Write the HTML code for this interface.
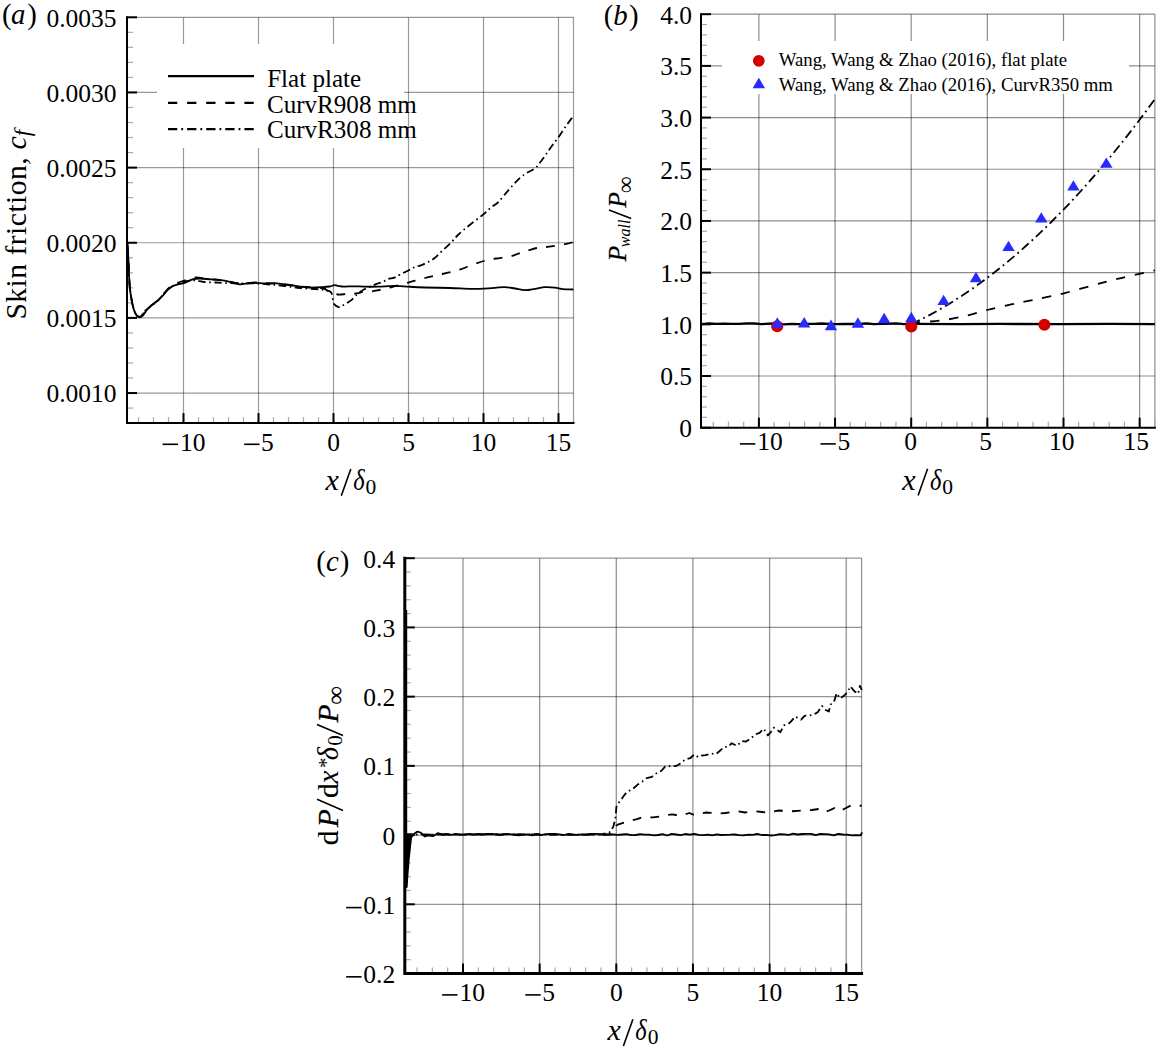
<!DOCTYPE html>
<html><head><meta charset="utf-8"><style>
html,body{margin:0;padding:0;background:#fff;}
svg{display:block;font-family:'Liberation Serif', serif;}
text{fill:#000;}
</style></head><body>
<svg width="1157" height="1053" viewBox="0 0 1157 1053">
<rect width="1157" height="1053" fill="#fff"/>
<line x1="183.50" y1="17.30" x2="183.50" y2="423.11" stroke="#000" stroke-width="1.2" stroke-opacity="0.4"/>
<line x1="258.50" y1="17.30" x2="258.50" y2="423.11" stroke="#000" stroke-width="1.2" stroke-opacity="0.4"/>
<line x1="333.50" y1="17.30" x2="333.50" y2="423.11" stroke="#000" stroke-width="1.2" stroke-opacity="0.4"/>
<line x1="408.50" y1="17.30" x2="408.50" y2="423.11" stroke="#000" stroke-width="1.2" stroke-opacity="0.4"/>
<line x1="483.50" y1="17.30" x2="483.50" y2="423.11" stroke="#000" stroke-width="1.2" stroke-opacity="0.4"/>
<line x1="558.50" y1="17.30" x2="558.50" y2="423.11" stroke="#000" stroke-width="1.2" stroke-opacity="0.4"/>
<line x1="127.00" y1="393.05" x2="573.50" y2="393.05" stroke="#000" stroke-width="1.2" stroke-opacity="0.4"/>
<line x1="127.00" y1="317.90" x2="573.50" y2="317.90" stroke="#000" stroke-width="1.2" stroke-opacity="0.4"/>
<line x1="127.00" y1="242.75" x2="573.50" y2="242.75" stroke="#000" stroke-width="1.2" stroke-opacity="0.4"/>
<line x1="127.00" y1="167.60" x2="573.50" y2="167.60" stroke="#000" stroke-width="1.2" stroke-opacity="0.4"/>
<line x1="127.00" y1="92.45" x2="573.50" y2="92.45" stroke="#000" stroke-width="1.2" stroke-opacity="0.4"/>
<line x1="127.00" y1="17.30" x2="573.50" y2="17.30" stroke="#000" stroke-width="1.2" stroke-opacity="0.4"/>
<line x1="573.50" y1="17.30" x2="573.50" y2="423.11" stroke="#000" stroke-width="1.2" stroke-opacity="0.4"/>
<rect x="157" y="44" width="247" height="104" fill="#fff"/>
<line x1="138.50" y1="423.11" x2="138.50" y2="417.11" stroke="#a8a8a8" stroke-width="1.2" />
<line x1="153.50" y1="423.11" x2="153.50" y2="417.11" stroke="#a8a8a8" stroke-width="1.2" />
<line x1="168.50" y1="423.11" x2="168.50" y2="417.11" stroke="#a8a8a8" stroke-width="1.2" />
<line x1="198.50" y1="423.11" x2="198.50" y2="417.11" stroke="#a8a8a8" stroke-width="1.2" />
<line x1="213.50" y1="423.11" x2="213.50" y2="417.11" stroke="#a8a8a8" stroke-width="1.2" />
<line x1="228.50" y1="423.11" x2="228.50" y2="417.11" stroke="#a8a8a8" stroke-width="1.2" />
<line x1="243.50" y1="423.11" x2="243.50" y2="417.11" stroke="#a8a8a8" stroke-width="1.2" />
<line x1="273.50" y1="423.11" x2="273.50" y2="417.11" stroke="#a8a8a8" stroke-width="1.2" />
<line x1="288.50" y1="423.11" x2="288.50" y2="417.11" stroke="#a8a8a8" stroke-width="1.2" />
<line x1="303.50" y1="423.11" x2="303.50" y2="417.11" stroke="#a8a8a8" stroke-width="1.2" />
<line x1="318.50" y1="423.11" x2="318.50" y2="417.11" stroke="#a8a8a8" stroke-width="1.2" />
<line x1="348.50" y1="423.11" x2="348.50" y2="417.11" stroke="#a8a8a8" stroke-width="1.2" />
<line x1="363.50" y1="423.11" x2="363.50" y2="417.11" stroke="#a8a8a8" stroke-width="1.2" />
<line x1="378.50" y1="423.11" x2="378.50" y2="417.11" stroke="#a8a8a8" stroke-width="1.2" />
<line x1="393.50" y1="423.11" x2="393.50" y2="417.11" stroke="#a8a8a8" stroke-width="1.2" />
<line x1="423.50" y1="423.11" x2="423.50" y2="417.11" stroke="#a8a8a8" stroke-width="1.2" />
<line x1="438.50" y1="423.11" x2="438.50" y2="417.11" stroke="#a8a8a8" stroke-width="1.2" />
<line x1="453.50" y1="423.11" x2="453.50" y2="417.11" stroke="#a8a8a8" stroke-width="1.2" />
<line x1="468.50" y1="423.11" x2="468.50" y2="417.11" stroke="#a8a8a8" stroke-width="1.2" />
<line x1="498.50" y1="423.11" x2="498.50" y2="417.11" stroke="#a8a8a8" stroke-width="1.2" />
<line x1="513.50" y1="423.11" x2="513.50" y2="417.11" stroke="#a8a8a8" stroke-width="1.2" />
<line x1="528.50" y1="423.11" x2="528.50" y2="417.11" stroke="#a8a8a8" stroke-width="1.2" />
<line x1="543.50" y1="423.11" x2="543.50" y2="417.11" stroke="#a8a8a8" stroke-width="1.2" />
<line x1="573.50" y1="423.11" x2="573.50" y2="417.11" stroke="#a8a8a8" stroke-width="1.2" />
<line x1="127.00" y1="423.11" x2="133.00" y2="423.11" stroke="#a8a8a8" stroke-width="1.2" />
<line x1="127.00" y1="408.08" x2="133.00" y2="408.08" stroke="#a8a8a8" stroke-width="1.2" />
<line x1="127.00" y1="378.02" x2="133.00" y2="378.02" stroke="#a8a8a8" stroke-width="1.2" />
<line x1="127.00" y1="362.99" x2="133.00" y2="362.99" stroke="#a8a8a8" stroke-width="1.2" />
<line x1="127.00" y1="347.96" x2="133.00" y2="347.96" stroke="#a8a8a8" stroke-width="1.2" />
<line x1="127.00" y1="332.93" x2="133.00" y2="332.93" stroke="#a8a8a8" stroke-width="1.2" />
<line x1="127.00" y1="302.87" x2="133.00" y2="302.87" stroke="#a8a8a8" stroke-width="1.2" />
<line x1="127.00" y1="287.84" x2="133.00" y2="287.84" stroke="#a8a8a8" stroke-width="1.2" />
<line x1="127.00" y1="272.81" x2="133.00" y2="272.81" stroke="#a8a8a8" stroke-width="1.2" />
<line x1="127.00" y1="257.78" x2="133.00" y2="257.78" stroke="#a8a8a8" stroke-width="1.2" />
<line x1="127.00" y1="227.72" x2="133.00" y2="227.72" stroke="#a8a8a8" stroke-width="1.2" />
<line x1="127.00" y1="212.69" x2="133.00" y2="212.69" stroke="#a8a8a8" stroke-width="1.2" />
<line x1="127.00" y1="197.66" x2="133.00" y2="197.66" stroke="#a8a8a8" stroke-width="1.2" />
<line x1="127.00" y1="182.63" x2="133.00" y2="182.63" stroke="#a8a8a8" stroke-width="1.2" />
<line x1="127.00" y1="152.57" x2="133.00" y2="152.57" stroke="#a8a8a8" stroke-width="1.2" />
<line x1="127.00" y1="137.54" x2="133.00" y2="137.54" stroke="#a8a8a8" stroke-width="1.2" />
<line x1="127.00" y1="122.51" x2="133.00" y2="122.51" stroke="#a8a8a8" stroke-width="1.2" />
<line x1="127.00" y1="107.48" x2="133.00" y2="107.48" stroke="#a8a8a8" stroke-width="1.2" />
<line x1="127.00" y1="77.42" x2="133.00" y2="77.42" stroke="#a8a8a8" stroke-width="1.2" />
<line x1="127.00" y1="62.39" x2="133.00" y2="62.39" stroke="#a8a8a8" stroke-width="1.2" />
<line x1="127.00" y1="47.36" x2="133.00" y2="47.36" stroke="#a8a8a8" stroke-width="1.2" />
<line x1="127.00" y1="32.33" x2="133.00" y2="32.33" stroke="#a8a8a8" stroke-width="1.2" />
<line x1="183.50" y1="423.11" x2="183.50" y2="413.11" stroke="#000" stroke-width="2" />
<line x1="258.50" y1="423.11" x2="258.50" y2="413.11" stroke="#000" stroke-width="2" />
<line x1="333.50" y1="423.11" x2="333.50" y2="413.11" stroke="#000" stroke-width="2" />
<line x1="408.50" y1="423.11" x2="408.50" y2="413.11" stroke="#000" stroke-width="2" />
<line x1="483.50" y1="423.11" x2="483.50" y2="413.11" stroke="#000" stroke-width="2" />
<line x1="558.50" y1="423.11" x2="558.50" y2="413.11" stroke="#000" stroke-width="2" />
<line x1="127.00" y1="393.05" x2="137.00" y2="393.05" stroke="#000" stroke-width="2" />
<line x1="127.00" y1="317.90" x2="137.00" y2="317.90" stroke="#000" stroke-width="2" />
<line x1="127.00" y1="242.75" x2="137.00" y2="242.75" stroke="#000" stroke-width="2" />
<line x1="127.00" y1="167.60" x2="137.00" y2="167.60" stroke="#000" stroke-width="2" />
<line x1="127.00" y1="92.45" x2="137.00" y2="92.45" stroke="#000" stroke-width="2" />
<line x1="127.00" y1="17.30" x2="137.00" y2="17.30" stroke="#000" stroke-width="2" />
<path d="M127.00 17.30 V423.11 H573.50" fill="none" stroke="#000" stroke-width="2.0" stroke-linecap="square"/>
<path d="M127.5 243.0 C127.6 245.0 128.0 250.5 128.2 255.0 C128.4 259.5 128.6 265.0 128.8 270.0 C129.0 275.0 129.3 280.9 129.6 285.0 C129.9 289.1 130.3 291.5 130.7 294.5 C131.1 297.5 131.7 300.5 132.2 303.0 C132.7 305.5 133.2 307.6 133.8 309.5 C134.4 311.4 135.1 313.2 136.0 314.5 C136.9 315.8 138.2 317.1 139.3 317.3 C140.4 317.5 141.4 316.9 142.8 315.5 C144.2 314.1 146.1 310.8 147.6 309.0 C149.1 307.2 150.3 306.4 152.0 305.0 C153.7 303.6 156.2 301.9 158.0 300.3 C159.8 298.7 161.4 297.2 163.0 295.5 C164.6 293.8 166.0 291.5 167.5 290.0 C169.0 288.5 170.4 287.4 172.0 286.5 C173.6 285.6 175.1 285.2 177.0 284.6 C178.9 284.1 181.1 284.1 183.7 283.2 C186.3 282.3 189.8 280.1 192.5 279.3 C195.2 278.5 196.9 278.5 200.0 278.5 C203.1 278.5 207.2 279.1 211.0 279.4 C214.8 279.7 219.5 279.9 222.8 280.4 C226.1 280.9 228.2 281.5 231.0 282.2 C233.8 282.9 236.5 284.2 239.9 284.3 C243.3 284.4 247.0 282.9 251.3 282.8 C255.6 282.7 261.3 283.4 265.6 283.5 C269.9 283.6 272.3 282.9 277.0 283.3 C281.7 283.7 288.8 285.0 294.0 285.7 C299.2 286.4 303.6 287.3 308.4 287.5 C313.2 287.7 319.1 287.3 322.6 287.1 C326.2 286.9 327.7 286.8 329.7 286.5 C331.7 286.2 333.0 285.3 334.4 285.2 C335.8 285.1 336.2 285.6 337.8 285.8 C339.4 286.0 341.4 286.5 344.0 286.6 C346.6 286.7 350.5 286.3 353.7 286.3 C356.9 286.3 359.5 286.5 363.4 286.6 C367.3 286.7 371.9 286.8 377.2 286.7 C382.5 286.6 389.8 285.9 395.0 285.9 C400.2 285.9 403.4 286.4 408.4 286.7 C413.4 287.0 418.1 287.3 425.0 287.5 C431.9 287.7 442.5 287.8 450.0 288.0 C457.5 288.2 464.4 288.7 470.0 288.8 C475.6 288.9 479.6 288.8 483.8 288.6 C488.0 288.4 491.5 288.1 495.0 287.8 C498.5 287.6 501.7 287.0 505.0 287.1 C508.3 287.2 511.7 288.0 515.0 288.5 C518.3 289.0 521.7 290.1 525.0 290.1 C528.3 290.2 531.7 289.3 535.0 288.8 C538.3 288.3 541.7 287.3 545.0 287.1 C548.3 286.9 552.0 287.2 555.0 287.6 C558.0 288.0 559.9 288.9 563.0 289.2 C566.1 289.5 571.7 289.4 573.4 289.5" fill="none" stroke="#000" stroke-width="1.8" stroke-linejoin="round" />
<path d="M127.5 245.0 C127.7 247.8 128.1 255.7 128.4 262.0 C128.7 268.3 129.0 277.5 129.4 283.0 C129.8 288.5 130.3 291.3 130.8 295.0 C131.3 298.7 132.0 302.2 132.6 305.0 C133.2 307.8 133.8 309.7 134.6 311.5 C135.4 313.3 136.4 315.2 137.5 316.0 C138.6 316.8 139.8 317.1 141.0 316.3 C142.2 315.6 143.5 313.1 145.0 311.5 C146.5 309.9 147.8 308.4 150.0 306.5 C152.2 304.6 155.3 302.6 158.0 300.0 C160.7 297.4 163.7 293.4 166.0 291.0 C168.3 288.6 169.7 287.0 172.0 285.5 C174.3 284.0 177.3 283.0 180.0 282.0 C182.7 281.0 185.3 280.2 188.0 279.5 C190.7 278.8 193.3 277.7 196.0 277.5 C198.7 277.3 200.8 278.2 204.0 278.5 C207.2 278.8 211.5 279.2 215.0 279.5 C218.5 279.8 220.8 279.8 225.0 280.5 C229.2 281.2 235.0 283.2 240.0 283.5 C245.0 283.8 250.0 282.5 255.0 282.5 C260.0 282.5 265.0 283.0 270.0 283.3 C275.0 283.6 280.0 284.0 285.0 284.5 C290.0 285.0 295.0 286.0 300.0 286.5 C305.0 287.0 311.0 287.2 315.0 287.5 C319.0 287.8 321.9 288.0 324.0 288.5 C326.1 289.0 326.1 290.2 327.4 290.7 C328.7 291.2 330.3 291.0 331.6 291.5 C332.9 292.0 333.7 293.0 335.0 293.5 C336.3 294.0 337.2 294.5 339.2 294.6 C341.2 294.7 344.6 294.0 346.8 293.9 C349.0 293.8 350.5 294.0 352.3 293.9 C354.1 293.8 356.0 293.6 357.9 293.2 C359.8 292.8 361.1 292.0 363.4 291.7 C365.7 291.4 369.0 291.8 371.7 291.5 C374.4 291.2 376.1 290.7 379.3 290.0 C382.5 289.3 386.2 288.5 391.1 287.3 C396.0 286.1 402.8 284.2 408.4 282.6 C414.0 281.1 419.3 279.4 425.0 278.0 C430.7 276.6 436.6 275.4 442.4 274.0 C448.2 272.6 454.7 271.1 459.6 269.6 C464.5 268.1 468.0 266.4 472.0 265.0 C476.0 263.6 479.8 262.1 483.8 261.0 C487.8 259.9 491.8 259.2 496.0 258.5 C500.2 257.8 505.3 257.6 509.3 256.7 C513.3 255.8 516.8 254.1 520.0 253.0 C523.2 251.9 526.0 251.0 528.8 250.2 C531.6 249.4 534.1 248.5 537.0 248.0 C539.9 247.5 542.7 247.4 546.0 247.0 C549.3 246.6 553.4 246.1 557.0 245.5 C560.6 244.9 565.0 244.3 567.7 243.7 C570.4 243.1 572.5 242.3 573.4 242.0" fill="none" stroke="#000" stroke-width="1.8" stroke-linejoin="round" stroke-dasharray="8.8 9.2"/>
<path d="M127.5 247.0 C127.7 250.0 128.2 258.5 128.6 265.0 C129.0 271.5 129.4 280.7 129.8 286.0 C130.2 291.3 130.7 293.7 131.2 297.0 C131.7 300.3 132.4 303.4 133.0 306.0 C133.6 308.6 134.2 310.7 135.0 312.5 C135.8 314.3 137.0 316.0 138.0 316.6 C139.0 317.2 139.8 316.9 141.0 316.0 C142.2 315.1 143.5 312.5 145.0 311.0 C146.5 309.5 147.8 308.8 150.0 307.0 C152.2 305.2 155.3 303.1 158.0 300.5 C160.7 297.9 163.7 293.8 166.0 291.5 C168.3 289.2 169.7 287.9 172.0 286.5 C174.3 285.1 177.3 283.9 180.0 283.0 C182.7 282.1 185.3 281.4 188.0 281.0 C190.7 280.6 193.3 280.3 196.0 280.5 C198.7 280.7 200.8 281.7 204.0 282.0 C207.2 282.3 211.5 282.3 215.0 282.5 C218.5 282.7 220.8 282.8 225.0 283.0 C229.2 283.2 235.0 283.4 240.0 283.5 C245.0 283.6 250.0 283.3 255.0 283.5 C260.0 283.7 265.0 284.1 270.0 284.5 C275.0 284.9 280.0 285.4 285.0 286.0 C290.0 286.6 295.0 287.5 300.0 288.0 C305.0 288.5 310.9 288.7 315.0 289.0 C319.1 289.3 322.1 289.5 324.7 290.0 C327.3 290.5 329.6 290.7 330.9 292.1 C332.2 293.5 332.1 296.4 332.6 298.4 C333.1 300.4 333.0 302.5 334.0 303.9 C335.0 305.3 337.3 306.6 338.5 307.0 C339.7 307.4 340.2 306.8 341.3 306.3 C342.4 305.8 343.8 304.9 345.4 303.9 C347.0 302.9 349.1 301.9 351.0 300.4 C352.9 298.9 354.7 296.5 356.5 294.9 C358.3 293.3 360.3 291.8 362.0 290.7 C363.7 289.6 365.2 288.8 366.9 288.0 C368.6 287.2 370.8 286.6 372.4 285.9 C374.0 285.2 374.8 284.4 376.5 283.8 C378.2 283.2 380.9 282.9 382.8 282.1 C384.7 281.3 385.7 279.8 387.6 279.0 C389.6 278.2 392.4 278.4 394.5 277.6 C396.6 276.9 397.7 275.7 400.0 274.5 C402.3 273.3 406.1 271.7 408.4 270.5 C410.7 269.3 411.9 268.4 414.0 267.5 C416.1 266.6 418.6 266.1 420.8 265.3 C423.0 264.5 424.9 263.6 427.0 262.5 C429.1 261.4 431.2 260.7 433.7 258.8 C436.2 256.9 439.1 253.7 442.0 251.0 C444.9 248.3 448.5 245.1 451.0 242.6 C453.5 240.1 454.8 238.2 457.0 236.0 C459.2 233.8 461.2 232.0 464.0 229.6 C466.8 227.2 470.7 224.1 474.0 221.5 C477.3 218.9 481.0 216.3 483.8 214.0 C486.6 211.7 488.6 209.5 491.0 207.5 C493.4 205.5 495.5 204.8 498.5 201.8 C501.5 198.8 505.4 193.5 509.0 189.5 C512.6 185.5 517.0 180.6 520.0 177.8 C523.0 175.0 524.5 174.4 527.0 172.8 C529.5 171.2 533.0 170.1 535.3 168.2 C537.6 166.3 539.2 163.5 541.0 161.2 C542.8 158.9 544.2 157.1 546.0 154.5 C547.8 151.9 549.9 148.7 552.0 145.8 C554.1 142.9 556.3 140.3 558.6 137.0 C560.9 133.7 563.5 129.5 566.0 126.0 C568.5 122.5 572.2 117.5 573.4 115.8" fill="none" stroke="#000" stroke-width="1.8" stroke-linejoin="round" stroke-dasharray="7.5 3.5 1.6 3.5"/>
<line x1="168.00" y1="76.20" x2="254.00" y2="76.20" stroke="#000" stroke-width="2.2" />
<line x1="168.00" y1="102.80" x2="254.00" y2="102.80" stroke="#000" stroke-width="2.2" stroke-dasharray="9.3 9.8"/>
<line x1="168.00" y1="129.20" x2="254.00" y2="129.20" stroke="#000" stroke-width="2.2" stroke-dasharray="9.3 4 1.8 4"/>
<text x="267.15" y="86.80" font-size="25.1" text-anchor="start" >Flat plate</text>
<text x="266.90" y="112.90" font-size="25.1" text-anchor="start" >CurvR908 mm</text>
<text x="266.90" y="138.30" font-size="25.1" text-anchor="start" >CurvR308 mm</text>
<line x1="758.90" y1="14.20" x2="758.90" y2="427.70" stroke="#000" stroke-width="1.2" stroke-opacity="0.45"/>
<line x1="835.05" y1="14.20" x2="835.05" y2="427.70" stroke="#000" stroke-width="1.2" stroke-opacity="0.45"/>
<line x1="911.20" y1="14.20" x2="911.20" y2="427.70" stroke="#000" stroke-width="1.2" stroke-opacity="0.45"/>
<line x1="987.35" y1="14.20" x2="987.35" y2="427.70" stroke="#000" stroke-width="1.2" stroke-opacity="0.45"/>
<line x1="1063.50" y1="14.20" x2="1063.50" y2="427.70" stroke="#000" stroke-width="1.2" stroke-opacity="0.45"/>
<line x1="1139.65" y1="14.20" x2="1139.65" y2="427.70" stroke="#000" stroke-width="1.2" stroke-opacity="0.45"/>
<line x1="701.00" y1="376.01" x2="1154.88" y2="376.01" stroke="#000" stroke-width="1.2" stroke-opacity="0.45"/>
<line x1="701.00" y1="324.32" x2="1154.88" y2="324.32" stroke="#000" stroke-width="1.2" stroke-opacity="0.45"/>
<line x1="701.00" y1="272.64" x2="1154.88" y2="272.64" stroke="#000" stroke-width="1.2" stroke-opacity="0.45"/>
<line x1="701.00" y1="220.95" x2="1154.88" y2="220.95" stroke="#000" stroke-width="1.2" stroke-opacity="0.45"/>
<line x1="701.00" y1="169.26" x2="1154.88" y2="169.26" stroke="#000" stroke-width="1.2" stroke-opacity="0.45"/>
<line x1="701.00" y1="117.57" x2="1154.88" y2="117.57" stroke="#000" stroke-width="1.2" stroke-opacity="0.45"/>
<line x1="701.00" y1="65.89" x2="1154.88" y2="65.89" stroke="#000" stroke-width="1.2" stroke-opacity="0.45"/>
<line x1="701.00" y1="14.20" x2="1154.88" y2="14.20" stroke="#000" stroke-width="1.2" stroke-opacity="0.45"/>
<line x1="1154.88" y1="14.20" x2="1154.88" y2="427.70" stroke="#000" stroke-width="1.2" stroke-opacity="0.45"/>
<rect x="722" y="41" width="407" height="53" fill="#fff"/>
<line x1="713.21" y1="427.70" x2="713.21" y2="421.70" stroke="#a8a8a8" stroke-width="1.2" />
<line x1="728.44" y1="427.70" x2="728.44" y2="421.70" stroke="#a8a8a8" stroke-width="1.2" />
<line x1="743.67" y1="427.70" x2="743.67" y2="421.70" stroke="#a8a8a8" stroke-width="1.2" />
<line x1="774.13" y1="427.70" x2="774.13" y2="421.70" stroke="#a8a8a8" stroke-width="1.2" />
<line x1="789.36" y1="427.70" x2="789.36" y2="421.70" stroke="#a8a8a8" stroke-width="1.2" />
<line x1="804.59" y1="427.70" x2="804.59" y2="421.70" stroke="#a8a8a8" stroke-width="1.2" />
<line x1="819.82" y1="427.70" x2="819.82" y2="421.70" stroke="#a8a8a8" stroke-width="1.2" />
<line x1="850.28" y1="427.70" x2="850.28" y2="421.70" stroke="#a8a8a8" stroke-width="1.2" />
<line x1="865.51" y1="427.70" x2="865.51" y2="421.70" stroke="#a8a8a8" stroke-width="1.2" />
<line x1="880.74" y1="427.70" x2="880.74" y2="421.70" stroke="#a8a8a8" stroke-width="1.2" />
<line x1="895.97" y1="427.70" x2="895.97" y2="421.70" stroke="#a8a8a8" stroke-width="1.2" />
<line x1="926.43" y1="427.70" x2="926.43" y2="421.70" stroke="#a8a8a8" stroke-width="1.2" />
<line x1="941.66" y1="427.70" x2="941.66" y2="421.70" stroke="#a8a8a8" stroke-width="1.2" />
<line x1="956.89" y1="427.70" x2="956.89" y2="421.70" stroke="#a8a8a8" stroke-width="1.2" />
<line x1="972.12" y1="427.70" x2="972.12" y2="421.70" stroke="#a8a8a8" stroke-width="1.2" />
<line x1="1002.58" y1="427.70" x2="1002.58" y2="421.70" stroke="#a8a8a8" stroke-width="1.2" />
<line x1="1017.81" y1="427.70" x2="1017.81" y2="421.70" stroke="#a8a8a8" stroke-width="1.2" />
<line x1="1033.04" y1="427.70" x2="1033.04" y2="421.70" stroke="#a8a8a8" stroke-width="1.2" />
<line x1="1048.27" y1="427.70" x2="1048.27" y2="421.70" stroke="#a8a8a8" stroke-width="1.2" />
<line x1="1078.73" y1="427.70" x2="1078.73" y2="421.70" stroke="#a8a8a8" stroke-width="1.2" />
<line x1="1093.96" y1="427.70" x2="1093.96" y2="421.70" stroke="#a8a8a8" stroke-width="1.2" />
<line x1="1109.19" y1="427.70" x2="1109.19" y2="421.70" stroke="#a8a8a8" stroke-width="1.2" />
<line x1="1124.42" y1="427.70" x2="1124.42" y2="421.70" stroke="#a8a8a8" stroke-width="1.2" />
<line x1="1154.88" y1="427.70" x2="1154.88" y2="421.70" stroke="#a8a8a8" stroke-width="1.2" />
<line x1="701.00" y1="417.36" x2="707.00" y2="417.36" stroke="#a8a8a8" stroke-width="1.2" />
<line x1="701.00" y1="407.02" x2="707.00" y2="407.02" stroke="#a8a8a8" stroke-width="1.2" />
<line x1="701.00" y1="396.69" x2="707.00" y2="396.69" stroke="#a8a8a8" stroke-width="1.2" />
<line x1="701.00" y1="386.35" x2="707.00" y2="386.35" stroke="#a8a8a8" stroke-width="1.2" />
<line x1="701.00" y1="365.67" x2="707.00" y2="365.67" stroke="#a8a8a8" stroke-width="1.2" />
<line x1="701.00" y1="355.34" x2="707.00" y2="355.34" stroke="#a8a8a8" stroke-width="1.2" />
<line x1="701.00" y1="345.00" x2="707.00" y2="345.00" stroke="#a8a8a8" stroke-width="1.2" />
<line x1="701.00" y1="334.66" x2="707.00" y2="334.66" stroke="#a8a8a8" stroke-width="1.2" />
<line x1="701.00" y1="313.99" x2="707.00" y2="313.99" stroke="#a8a8a8" stroke-width="1.2" />
<line x1="701.00" y1="303.65" x2="707.00" y2="303.65" stroke="#a8a8a8" stroke-width="1.2" />
<line x1="701.00" y1="293.31" x2="707.00" y2="293.31" stroke="#a8a8a8" stroke-width="1.2" />
<line x1="701.00" y1="282.97" x2="707.00" y2="282.97" stroke="#a8a8a8" stroke-width="1.2" />
<line x1="701.00" y1="262.30" x2="707.00" y2="262.30" stroke="#a8a8a8" stroke-width="1.2" />
<line x1="701.00" y1="251.96" x2="707.00" y2="251.96" stroke="#a8a8a8" stroke-width="1.2" />
<line x1="701.00" y1="241.62" x2="707.00" y2="241.62" stroke="#a8a8a8" stroke-width="1.2" />
<line x1="701.00" y1="231.29" x2="707.00" y2="231.29" stroke="#a8a8a8" stroke-width="1.2" />
<line x1="701.00" y1="210.61" x2="707.00" y2="210.61" stroke="#a8a8a8" stroke-width="1.2" />
<line x1="701.00" y1="200.27" x2="707.00" y2="200.27" stroke="#a8a8a8" stroke-width="1.2" />
<line x1="701.00" y1="189.94" x2="707.00" y2="189.94" stroke="#a8a8a8" stroke-width="1.2" />
<line x1="701.00" y1="179.60" x2="707.00" y2="179.60" stroke="#a8a8a8" stroke-width="1.2" />
<line x1="701.00" y1="158.92" x2="707.00" y2="158.92" stroke="#a8a8a8" stroke-width="1.2" />
<line x1="701.00" y1="148.59" x2="707.00" y2="148.59" stroke="#a8a8a8" stroke-width="1.2" />
<line x1="701.00" y1="138.25" x2="707.00" y2="138.25" stroke="#a8a8a8" stroke-width="1.2" />
<line x1="701.00" y1="127.91" x2="707.00" y2="127.91" stroke="#a8a8a8" stroke-width="1.2" />
<line x1="701.00" y1="107.24" x2="707.00" y2="107.24" stroke="#a8a8a8" stroke-width="1.2" />
<line x1="701.00" y1="96.90" x2="707.00" y2="96.90" stroke="#a8a8a8" stroke-width="1.2" />
<line x1="701.00" y1="86.56" x2="707.00" y2="86.56" stroke="#a8a8a8" stroke-width="1.2" />
<line x1="701.00" y1="76.22" x2="707.00" y2="76.22" stroke="#a8a8a8" stroke-width="1.2" />
<line x1="701.00" y1="55.55" x2="707.00" y2="55.55" stroke="#a8a8a8" stroke-width="1.2" />
<line x1="701.00" y1="45.21" x2="707.00" y2="45.21" stroke="#a8a8a8" stroke-width="1.2" />
<line x1="701.00" y1="34.87" x2="707.00" y2="34.87" stroke="#a8a8a8" stroke-width="1.2" />
<line x1="701.00" y1="24.54" x2="707.00" y2="24.54" stroke="#a8a8a8" stroke-width="1.2" />
<line x1="758.90" y1="427.70" x2="758.90" y2="417.70" stroke="#000" stroke-width="2" />
<line x1="835.05" y1="427.70" x2="835.05" y2="417.70" stroke="#000" stroke-width="2" />
<line x1="911.20" y1="427.70" x2="911.20" y2="417.70" stroke="#000" stroke-width="2" />
<line x1="987.35" y1="427.70" x2="987.35" y2="417.70" stroke="#000" stroke-width="2" />
<line x1="1063.50" y1="427.70" x2="1063.50" y2="417.70" stroke="#000" stroke-width="2" />
<line x1="1139.65" y1="427.70" x2="1139.65" y2="417.70" stroke="#000" stroke-width="2" />
<line x1="701.00" y1="427.70" x2="711.00" y2="427.70" stroke="#000" stroke-width="2" />
<line x1="701.00" y1="376.01" x2="711.00" y2="376.01" stroke="#000" stroke-width="2" />
<line x1="701.00" y1="324.32" x2="711.00" y2="324.32" stroke="#000" stroke-width="2" />
<line x1="701.00" y1="272.64" x2="711.00" y2="272.64" stroke="#000" stroke-width="2" />
<line x1="701.00" y1="220.95" x2="711.00" y2="220.95" stroke="#000" stroke-width="2" />
<line x1="701.00" y1="169.26" x2="711.00" y2="169.26" stroke="#000" stroke-width="2" />
<line x1="701.00" y1="117.57" x2="711.00" y2="117.57" stroke="#000" stroke-width="2" />
<line x1="701.00" y1="65.89" x2="711.00" y2="65.89" stroke="#000" stroke-width="2" />
<line x1="701.00" y1="14.20" x2="711.00" y2="14.20" stroke="#000" stroke-width="2" />
<path d="M701.00 14.20 V427.70 H1154.88" fill="none" stroke="#000" stroke-width="2.0" stroke-linecap="square"/>
<path d="M701.5 324.2 L709.0 323.5 L716.5 323.8 L724.0 323.7 L731.5 323.9 L739.0 323.9 L746.5 323.4 L754.0 323.3 L761.5 324.1 L769.0 323.6 L776.5 323.5 L784.0 324.3 L791.5 323.8 L799.0 324.1 L806.5 323.8 L814.0 323.9 L821.5 323.5 L829.0 323.9 L836.5 324.2 L844.0 323.8 L851.5 324.0 L859.0 324.0 L866.5 323.4 L874.0 324.1 L881.5 323.9 L889.0 323.6 L896.5 323.3 L904.0 324.2 L911.2 323.8" fill="none" stroke="#000" stroke-width="2.3" stroke-linejoin="round" />
<path d="M911.2 323.9 L960.0 324.1 L1000.0 323.9 L1060.0 324.2 L1110.0 323.9 L1154.8 324.1" fill="none" stroke="#000" stroke-width="2.3" stroke-linejoin="round" />
<path d="M911.2 323.9 C913.0 323.6 916.7 322.8 922.2 322.2 C927.7 321.6 937.0 321.1 944.4 320.0 C951.8 318.9 959.6 317.3 966.7 315.6 C973.8 313.9 979.7 311.9 987.1 310.0 C994.5 308.1 1003.4 306.1 1011.1 304.4 C1018.8 302.7 1024.5 301.9 1033.3 300.0 C1042.1 298.1 1052.7 296.1 1063.8 293.3 C1074.9 290.5 1090.3 285.9 1100.0 283.3 C1109.7 280.7 1114.0 279.8 1122.2 277.8 C1130.4 275.9 1143.5 272.9 1148.9 271.6 C1154.3 270.4 1153.8 270.5 1154.8 270.3" fill="none" stroke="#000" stroke-width="1.8" stroke-linejoin="round" stroke-dasharray="9.3 9.8"/>
<path d="M911.2 323.9 L917.3 321.4 L923.4 318.3 L929.5 315.1 L935.6 311.8 L941.7 308.3 L947.8 304.7 L953.8 300.9 L959.9 297.1 L966.0 293.0 L972.1 288.8 L978.2 284.5 L984.3 280.1 L990.4 275.5 L996.5 270.8 L1002.6 265.9 L1008.7 260.9 L1014.8 255.7 L1020.9 250.5 L1026.9 245.0 L1033.0 239.5 L1039.1 233.8 L1045.2 227.9 L1051.3 222.0 L1057.4 215.8 L1063.5 209.6 L1069.6 203.2 L1075.7 196.6 L1081.8 190.0 L1087.9 183.2 L1094.0 176.2 L1100.1 169.1 L1106.1 161.9 L1112.2 154.5 L1118.3 147.0 L1124.4 139.4 L1130.5 131.6 L1136.6 123.7 L1142.7 115.6 L1148.8 107.4 L1154.9 99.1" fill="none" stroke="#000" stroke-width="1.8" stroke-linejoin="round" stroke-dasharray="9.3 4 1.8 4"/>
<circle cx="777.20" cy="326.20" r="6.0" fill="#d40000"/>
<circle cx="911.30" cy="326.40" r="6.0" fill="#d40000"/>
<circle cx="1044.40" cy="324.70" r="6.0" fill="#d40000"/>
<path d="M777.30 317.30 L783.50 327.70 L771.10 327.70 Z" fill="#2a2aff"/>
<path d="M804.20 316.90 L810.40 327.40 L798.00 327.40 Z" fill="#2a2aff"/>
<path d="M831.00 319.40 L837.20 330.20 L824.80 330.20 Z" fill="#2a2aff"/>
<path d="M857.90 317.30 L864.10 327.70 L851.70 327.70 Z" fill="#2a2aff"/>
<path d="M884.20 312.70 L890.40 323.30 L878.00 323.30 Z" fill="#2a2aff"/>
<path d="M911.30 311.80 L917.50 322.20 L905.10 322.20 Z" fill="#2a2aff"/>
<path d="M943.60 294.80 L949.80 305.10 L937.40 305.10 Z" fill="#2a2aff"/>
<path d="M976.00 271.70 L982.20 282.30 L969.80 282.30 Z" fill="#2a2aff"/>
<path d="M1008.50 240.80 L1014.70 251.10 L1002.30 251.10 Z" fill="#2a2aff"/>
<path d="M1041.30 212.30 L1047.50 222.60 L1035.10 222.60 Z" fill="#2a2aff"/>
<path d="M1073.40 180.20 L1079.60 190.40 L1067.20 190.40 Z" fill="#2a2aff"/>
<path d="M1106.30 157.40 L1112.50 167.70 L1100.10 167.70 Z" fill="#2a2aff"/>
<circle cx="758.80" cy="60.80" r="5.9" fill="#d40000"/>
<path d="M758.80 77.70 L765.00 88.20 L752.60 88.20 Z" fill="#2a2aff"/>
<text x="778.80" y="66.40" font-size="18.75" text-anchor="start" >Wang, Wang &amp; Zhao (2016), flat plate</text>
<text x="778.80" y="90.60" font-size="18.75" text-anchor="start" >Wang, Wang &amp; Zhao (2016), CurvR350 mm</text>
<line x1="463.00" y1="558.20" x2="463.00" y2="973.52" stroke="#000" stroke-width="1.3" stroke-opacity="0.42"/>
<line x1="539.65" y1="558.20" x2="539.65" y2="973.52" stroke="#000" stroke-width="1.3" stroke-opacity="0.42"/>
<line x1="616.30" y1="558.20" x2="616.30" y2="973.52" stroke="#000" stroke-width="1.3" stroke-opacity="0.42"/>
<line x1="692.95" y1="558.20" x2="692.95" y2="973.52" stroke="#000" stroke-width="1.3" stroke-opacity="0.42"/>
<line x1="769.60" y1="558.20" x2="769.60" y2="973.52" stroke="#000" stroke-width="1.3" stroke-opacity="0.42"/>
<line x1="846.25" y1="558.20" x2="846.25" y2="973.52" stroke="#000" stroke-width="1.3" stroke-opacity="0.42"/>
<line x1="404.80" y1="904.30" x2="861.58" y2="904.30" stroke="#000" stroke-width="1.3" stroke-opacity="0.42"/>
<line x1="404.80" y1="835.08" x2="861.58" y2="835.08" stroke="#000" stroke-width="1.3" stroke-opacity="0.42"/>
<line x1="404.80" y1="765.86" x2="861.58" y2="765.86" stroke="#000" stroke-width="1.3" stroke-opacity="0.42"/>
<line x1="404.80" y1="696.64" x2="861.58" y2="696.64" stroke="#000" stroke-width="1.3" stroke-opacity="0.42"/>
<line x1="404.80" y1="627.42" x2="861.58" y2="627.42" stroke="#000" stroke-width="1.3" stroke-opacity="0.42"/>
<line x1="404.80" y1="558.20" x2="861.58" y2="558.20" stroke="#000" stroke-width="1.3" stroke-opacity="0.42"/>
<line x1="861.58" y1="558.20" x2="861.58" y2="973.52" stroke="#000" stroke-width="1.3" stroke-opacity="0.42"/>
<line x1="417.01" y1="973.52" x2="417.01" y2="967.52" stroke="#a8a8a8" stroke-width="1.2" />
<line x1="432.34" y1="973.52" x2="432.34" y2="967.52" stroke="#a8a8a8" stroke-width="1.2" />
<line x1="447.67" y1="973.52" x2="447.67" y2="967.52" stroke="#a8a8a8" stroke-width="1.2" />
<line x1="478.33" y1="973.52" x2="478.33" y2="967.52" stroke="#a8a8a8" stroke-width="1.2" />
<line x1="493.66" y1="973.52" x2="493.66" y2="967.52" stroke="#a8a8a8" stroke-width="1.2" />
<line x1="508.99" y1="973.52" x2="508.99" y2="967.52" stroke="#a8a8a8" stroke-width="1.2" />
<line x1="524.32" y1="973.52" x2="524.32" y2="967.52" stroke="#a8a8a8" stroke-width="1.2" />
<line x1="554.98" y1="973.52" x2="554.98" y2="967.52" stroke="#a8a8a8" stroke-width="1.2" />
<line x1="570.31" y1="973.52" x2="570.31" y2="967.52" stroke="#a8a8a8" stroke-width="1.2" />
<line x1="585.64" y1="973.52" x2="585.64" y2="967.52" stroke="#a8a8a8" stroke-width="1.2" />
<line x1="600.97" y1="973.52" x2="600.97" y2="967.52" stroke="#a8a8a8" stroke-width="1.2" />
<line x1="631.63" y1="973.52" x2="631.63" y2="967.52" stroke="#a8a8a8" stroke-width="1.2" />
<line x1="646.96" y1="973.52" x2="646.96" y2="967.52" stroke="#a8a8a8" stroke-width="1.2" />
<line x1="662.29" y1="973.52" x2="662.29" y2="967.52" stroke="#a8a8a8" stroke-width="1.2" />
<line x1="677.62" y1="973.52" x2="677.62" y2="967.52" stroke="#a8a8a8" stroke-width="1.2" />
<line x1="708.28" y1="973.52" x2="708.28" y2="967.52" stroke="#a8a8a8" stroke-width="1.2" />
<line x1="723.61" y1="973.52" x2="723.61" y2="967.52" stroke="#a8a8a8" stroke-width="1.2" />
<line x1="738.94" y1="973.52" x2="738.94" y2="967.52" stroke="#a8a8a8" stroke-width="1.2" />
<line x1="754.27" y1="973.52" x2="754.27" y2="967.52" stroke="#a8a8a8" stroke-width="1.2" />
<line x1="784.93" y1="973.52" x2="784.93" y2="967.52" stroke="#a8a8a8" stroke-width="1.2" />
<line x1="800.26" y1="973.52" x2="800.26" y2="967.52" stroke="#a8a8a8" stroke-width="1.2" />
<line x1="815.59" y1="973.52" x2="815.59" y2="967.52" stroke="#a8a8a8" stroke-width="1.2" />
<line x1="830.92" y1="973.52" x2="830.92" y2="967.52" stroke="#a8a8a8" stroke-width="1.2" />
<line x1="861.58" y1="973.52" x2="861.58" y2="967.52" stroke="#a8a8a8" stroke-width="1.2" />
<line x1="404.80" y1="959.68" x2="410.80" y2="959.68" stroke="#a8a8a8" stroke-width="1.2" />
<line x1="404.80" y1="945.83" x2="410.80" y2="945.83" stroke="#a8a8a8" stroke-width="1.2" />
<line x1="404.80" y1="931.99" x2="410.80" y2="931.99" stroke="#a8a8a8" stroke-width="1.2" />
<line x1="404.80" y1="918.14" x2="410.80" y2="918.14" stroke="#a8a8a8" stroke-width="1.2" />
<line x1="404.80" y1="890.46" x2="410.80" y2="890.46" stroke="#a8a8a8" stroke-width="1.2" />
<line x1="404.80" y1="876.61" x2="410.80" y2="876.61" stroke="#a8a8a8" stroke-width="1.2" />
<line x1="404.80" y1="862.77" x2="410.80" y2="862.77" stroke="#a8a8a8" stroke-width="1.2" />
<line x1="404.80" y1="848.92" x2="410.80" y2="848.92" stroke="#a8a8a8" stroke-width="1.2" />
<line x1="404.80" y1="821.24" x2="410.80" y2="821.24" stroke="#a8a8a8" stroke-width="1.2" />
<line x1="404.80" y1="807.39" x2="410.80" y2="807.39" stroke="#a8a8a8" stroke-width="1.2" />
<line x1="404.80" y1="793.55" x2="410.80" y2="793.55" stroke="#a8a8a8" stroke-width="1.2" />
<line x1="404.80" y1="779.70" x2="410.80" y2="779.70" stroke="#a8a8a8" stroke-width="1.2" />
<line x1="404.80" y1="752.02" x2="410.80" y2="752.02" stroke="#a8a8a8" stroke-width="1.2" />
<line x1="404.80" y1="738.17" x2="410.80" y2="738.17" stroke="#a8a8a8" stroke-width="1.2" />
<line x1="404.80" y1="724.33" x2="410.80" y2="724.33" stroke="#a8a8a8" stroke-width="1.2" />
<line x1="404.80" y1="710.48" x2="410.80" y2="710.48" stroke="#a8a8a8" stroke-width="1.2" />
<line x1="404.80" y1="682.80" x2="410.80" y2="682.80" stroke="#a8a8a8" stroke-width="1.2" />
<line x1="404.80" y1="668.95" x2="410.80" y2="668.95" stroke="#a8a8a8" stroke-width="1.2" />
<line x1="404.80" y1="655.11" x2="410.80" y2="655.11" stroke="#a8a8a8" stroke-width="1.2" />
<line x1="404.80" y1="641.26" x2="410.80" y2="641.26" stroke="#a8a8a8" stroke-width="1.2" />
<line x1="404.80" y1="613.58" x2="410.80" y2="613.58" stroke="#a8a8a8" stroke-width="1.2" />
<line x1="404.80" y1="599.73" x2="410.80" y2="599.73" stroke="#a8a8a8" stroke-width="1.2" />
<line x1="404.80" y1="585.89" x2="410.80" y2="585.89" stroke="#a8a8a8" stroke-width="1.2" />
<line x1="404.80" y1="572.04" x2="410.80" y2="572.04" stroke="#a8a8a8" stroke-width="1.2" />
<line x1="463.00" y1="973.52" x2="463.00" y2="963.52" stroke="#000" stroke-width="2" />
<line x1="539.65" y1="973.52" x2="539.65" y2="963.52" stroke="#000" stroke-width="2" />
<line x1="616.30" y1="973.52" x2="616.30" y2="963.52" stroke="#000" stroke-width="2" />
<line x1="692.95" y1="973.52" x2="692.95" y2="963.52" stroke="#000" stroke-width="2" />
<line x1="769.60" y1="973.52" x2="769.60" y2="963.52" stroke="#000" stroke-width="2" />
<line x1="846.25" y1="973.52" x2="846.25" y2="963.52" stroke="#000" stroke-width="2" />
<line x1="404.80" y1="973.52" x2="414.80" y2="973.52" stroke="#000" stroke-width="2" />
<line x1="404.80" y1="904.30" x2="414.80" y2="904.30" stroke="#000" stroke-width="2" />
<line x1="404.80" y1="835.08" x2="414.80" y2="835.08" stroke="#000" stroke-width="2" />
<line x1="404.80" y1="765.86" x2="414.80" y2="765.86" stroke="#000" stroke-width="2" />
<line x1="404.80" y1="696.64" x2="414.80" y2="696.64" stroke="#000" stroke-width="2" />
<line x1="404.80" y1="627.42" x2="414.80" y2="627.42" stroke="#000" stroke-width="2" />
<line x1="404.80" y1="558.20" x2="414.80" y2="558.20" stroke="#000" stroke-width="2" />
<path d="M404.80 558.20 V973.52 H861.58" fill="none" stroke="#000" stroke-width="3.0" stroke-linecap="square"/>
<path d="M404 834 L407.2 833.5 L412.2 836.4 L411.2 845 L409.6 860 L408.4 875 L407.6 887.5 L405.5 888.5 L404 886 Z" fill="#000"/>
<line x1="406.6" y1="610" x2="406.6" y2="836" stroke="#000" stroke-width="1.2"/>
<path d="M407.0 836.0 L410.0 838.0 L412.0 836.5 L414.5 833.5 L417.5 831.6 L420.5 832.5 L423.0 835.0 L424.9 836.5 L429.0 835.5 L433.0 836.2 L437.7 833.2 L442.2 834.3 L446.7 834.0 L451.2 834.9 L455.7 833.8 L460.2 834.7 L464.7 834.4 L469.2 833.8 L473.7 834.6 L478.2 833.8 L482.7 834.5 L487.2 833.8 L491.7 833.9 L496.2 834.5 L500.7 835.2 L505.2 833.9 L509.7 834.1 L514.2 834.8 L518.7 835.4 L523.2 834.7 L527.7 834.4 L532.2 835.5 L536.7 833.8 L541.2 835.2 L545.7 834.2 L550.2 834.0 L554.7 833.9 L559.2 834.3 L563.7 835.2 L568.2 834.0 L572.7 834.7 L577.2 834.9 L581.7 834.4 L586.2 834.7 L590.7 833.8 L595.2 833.8 L599.7 834.1 L604.2 834.9 L608.7 834.5 L613.2 834.3 L617.7 834.8 L622.2 834.5 L626.7 834.2 L631.2 835.1 L635.7 835.0 L640.2 834.1 L644.7 834.7 L649.2 834.6 L653.7 835.3 L658.2 835.0 L662.7 834.2 L667.2 835.5 L671.7 833.9 L676.2 834.5 L680.7 835.1 L685.2 834.0 L689.7 834.6 L694.2 833.8 L698.7 834.9 L703.2 835.1 L707.7 834.7 L712.2 835.3 L716.7 834.3 L721.2 835.0 L725.7 834.8 L730.2 834.7 L734.7 834.5 L739.2 835.2 L743.7 835.4 L748.2 834.6 L752.7 834.9 L757.2 833.8 L761.7 835.0 L766.2 834.9 L770.7 835.5 L775.2 835.2 L779.7 834.2 L784.2 834.4 L788.7 834.9 L793.2 833.7 L797.7 834.5 L802.2 834.0 L806.7 833.9 L811.2 833.8 L815.7 835.1 L820.2 833.9 L824.7 834.1 L829.2 834.4 L833.7 835.3 L838.2 833.8 L842.7 834.5 L847.2 834.7 L851.7 835.3 L856.2 835.2 L860.7 835.3 L862.0 832.3" fill="none" stroke="#000" stroke-width="1.8" stroke-linejoin="round" />
<path d="M405.0 834.5 L450.0 834.6 L500.0 834.4 L560.0 834.6 L605.0 834.5 L611.0 834.3 L613.0 830.5 L614.2 827.0 L617.8 824.6 L624.0 822.5 L632.4 820.2 L637.0 819.2 L642.0 817.3 L652.9 817.3 L662.6 816.1 L668.0 815.0 L672.3 814.4 L676.0 815.0 L679.5 816.1 L685.0 814.5 L689.2 813.0 L694.0 814.9 L700.0 813.5 L706.2 812.5 L711.0 812.8 L715.8 813.7 L725.5 813.0 L733.0 811.8 L737.6 811.3 L744.9 812.5 L750.0 811.8 L754.6 811.3 L762.0 812.0 L769.1 813.0 L774.0 811.5 L778.8 810.5 L790.9 811.3 L803.0 810.5 L812.0 810.0 L819.9 808.8 L824.8 812.0 L829.0 810.5 L834.4 808.1 L839.3 811.3 L845.0 808.5 L851.4 805.2 L856.0 805.8 L861.8 805.7" fill="none" stroke="#000" stroke-width="1.8" stroke-linejoin="round" stroke-dasharray="8.8 9.2"/>
<path d="M405.0 834.5 L450.0 834.6 L500.0 834.4 L560.0 834.6 L600.0 834.6 L609.2 832.7 L613.2 827.0 L615.3 819.1 L615.9 813.1 L616.4 807.0 L617.8 803.5 L620.3 801.0 L623.1 796.7 L627.0 791.7 L632.0 789.6 L637.7 784.6 L642.4 781.4 L646.6 778.2 L652.0 776.8 L657.0 772.8 L661.6 770.7 L665.2 766.5 L667.3 765.5 L670.4 766.5 L676.1 766.0 L680.7 763.4 L684.9 759.6 L690.1 758.2 L694.2 754.6 L698.4 757.2 L701.5 755.6 L705.6 755.1 L710.8 753.6 L716.0 754.1 L719.1 751.5 L724.3 746.8 L728.5 746.8 L731.6 743.2 L736.8 745.8 L742.0 741.1 L746.1 741.6 L751.3 738.0 L755.4 734.4 L759.6 732.8 L763.7 728.7 L767.9 735.4 L771.0 731.8 L773.6 727.6 L776.5 729.6 L780.4 732.2 L783.8 725.3 L788.2 724.0 L790.7 721.9 L795.1 716.5 L797.7 718.0 L801.1 719.7 L804.6 715.8 L809.8 715.4 L813.2 714.9 L817.5 712.4 L821.9 705.9 L825.3 709.8 L828.8 711.5 L830.5 704.6 L834.0 702.0 L836.6 693.3 L840.0 698.5 L844.3 695.5 L847.8 691.6 L850.4 686.4 L854.7 691.6 L858.2 693.8 L859.9 686.0 L861.8 689.9" fill="none" stroke="#000" stroke-width="1.8" stroke-linejoin="round" stroke-dasharray="7.5 3.5 1.6 3.5"/>
<text x="116.60" y="402.45" font-size="25.5" text-anchor="end" >0.0010</text>
<text x="116.60" y="327.30" font-size="25.5" text-anchor="end" >0.0015</text>
<text x="116.60" y="252.15" font-size="25.5" text-anchor="end" >0.0020</text>
<text x="116.60" y="177.00" font-size="25.5" text-anchor="end" >0.0025</text>
<text x="116.60" y="101.85" font-size="25.5" text-anchor="end" >0.0030</text>
<text x="116.60" y="26.70" font-size="25.5" text-anchor="end" >0.0035</text>
<rect x="162.61" y="443.50" width="15.4" height="1.6" fill="#000"/>
<text x="179.91" y="450.60" font-size="25.5" text-anchor="start" >10</text>
<rect x="244.15" y="443.50" width="15.4" height="1.6" fill="#000"/>
<text x="261.12" y="450.60" font-size="25.5" text-anchor="start" >5</text>
<text x="333.50" y="450.60" font-size="25.5" text-anchor="middle" >0</text>
<text x="408.50" y="450.60" font-size="25.5" text-anchor="middle" >5</text>
<text x="483.50" y="450.60" font-size="25.5" text-anchor="middle" >10</text>
<text x="558.50" y="450.60" font-size="25.5" text-anchor="middle" >15</text>
<text x="692.10" y="437.00" font-size="25.5" text-anchor="end" >0</text>
<text x="692.10" y="385.31" font-size="25.5" text-anchor="end" >0.5</text>
<text x="692.10" y="333.62" font-size="25.5" text-anchor="end" >1.0</text>
<text x="692.10" y="281.94" font-size="25.5" text-anchor="end" >1.5</text>
<text x="692.10" y="230.25" font-size="25.5" text-anchor="end" >2.0</text>
<text x="692.10" y="178.56" font-size="25.5" text-anchor="end" >2.5</text>
<text x="692.10" y="126.87" font-size="25.5" text-anchor="end" >3.0</text>
<text x="692.10" y="75.19" font-size="25.5" text-anchor="end" >3.5</text>
<text x="692.10" y="23.50" font-size="25.5" text-anchor="end" >4.0</text>
<rect x="739.91" y="443.10" width="15.4" height="1.6" fill="#000"/>
<text x="757.21" y="450.20" font-size="25.5" text-anchor="start" >10</text>
<rect x="820.45" y="443.10" width="15.4" height="1.6" fill="#000"/>
<text x="837.42" y="450.20" font-size="25.5" text-anchor="start" >5</text>
<text x="910.50" y="450.20" font-size="25.5" text-anchor="middle" >0</text>
<text x="985.50" y="450.20" font-size="25.5" text-anchor="middle" >5</text>
<text x="1061.70" y="450.20" font-size="25.5" text-anchor="middle" >10</text>
<text x="1136.20" y="450.20" font-size="25.5" text-anchor="middle" >15</text>
<text x="395.20" y="983.12" font-size="25.5" text-anchor="end" >0.2</text>
<rect x="346.14" y="976.02" width="15.4" height="1.6" fill="#000"/>
<text x="395.20" y="913.90" font-size="25.5" text-anchor="end" >0.1</text>
<rect x="346.14" y="906.80" width="15.4" height="1.6" fill="#000"/>
<text x="395.20" y="844.68" font-size="25.5" text-anchor="end" >0</text>
<text x="395.20" y="775.46" font-size="25.5" text-anchor="end" >0.1</text>
<text x="395.20" y="706.24" font-size="25.5" text-anchor="end" >0.2</text>
<text x="395.20" y="637.02" font-size="25.5" text-anchor="end" >0.3</text>
<text x="395.20" y="567.80" font-size="25.5" text-anchor="end" >0.4</text>
<rect x="442.11" y="994.10" width="15.4" height="1.6" fill="#000"/>
<text x="459.41" y="1001.20" font-size="25.5" text-anchor="start" >10</text>
<rect x="525.30" y="994.10" width="15.4" height="1.6" fill="#000"/>
<text x="542.27" y="1001.20" font-size="25.5" text-anchor="start" >5</text>
<text x="616.30" y="1001.20" font-size="25.5" text-anchor="middle" >0</text>
<text x="692.95" y="1001.20" font-size="25.5" text-anchor="middle" >5</text>
<text x="769.60" y="1001.20" font-size="25.5" text-anchor="middle" >10</text>
<text x="846.25" y="1001.20" font-size="25.5" text-anchor="middle" >15</text>
<text x="1.95" y="24.30" font-size="28.8">(</text>
<text x="11.09" y="24.30" font-size="28.8" font-style="italic">a</text>
<text x="27.14" y="24.30" font-size="28.8">)</text>
<text x="603.75" y="24.60" font-size="28.8">(</text>
<text x="613.19" y="24.60" font-size="28.8" font-style="italic">b</text>
<text x="628.94" y="24.60" font-size="28.8">)</text>
<text x="316.25" y="570.60" font-size="28.8">(</text>
<text x="325.89" y="570.60" font-size="28.8" font-style="italic">c</text>
<text x="339.84" y="570.60" font-size="28.8">)</text>
<text x="325.50" y="489.80" font-size="30" font-style="italic">x</text>
<line x1="341.30" y1="495.80" x2="350.80" y2="469.10" stroke="#000" stroke-width="1.6" />
<text transform="translate(353.26,489.80) scale(0.86,1)" font-size="28.5" font-style="italic">&#948;</text>
<text x="365.54" y="494.20" font-size="21.5">0</text>
<text x="902.30" y="489.50" font-size="30" font-style="italic">x</text>
<line x1="918.10" y1="495.50" x2="927.60" y2="468.80" stroke="#000" stroke-width="1.6" />
<text transform="translate(930.06,489.50) scale(0.86,1)" font-size="28.5" font-style="italic">&#948;</text>
<text x="942.34" y="493.90" font-size="21.5">0</text>
<text x="607.60" y="1040.00" font-size="30" font-style="italic">x</text>
<line x1="623.40" y1="1046.00" x2="632.90" y2="1019.30" stroke="#000" stroke-width="1.6" />
<text transform="translate(635.36,1040.00) scale(0.86,1)" font-size="28.5" font-style="italic">&#948;</text>
<text x="647.64" y="1044.40" font-size="21.5">0</text>
<g transform="translate(25.80,0) rotate(-90)">
<text x="-319.57" y="0.00" font-size="29.6" textLength="162.3">Skin friction,</text>
<text x="-149.40" y="0.00" font-size="30.0" font-style="italic" >c</text>
<text x="-136.23" y="4.00" font-size="23" font-style="italic" >f</text>
</g>
<g transform="translate(626.20,0) rotate(-90)">
<text x="-261.44" y="0.00" font-size="25.7" font-style="italic" stroke="#000" stroke-width="0.25">P</text>
<text x="-247.22" y="3.90" font-size="16.0" font-style="italic" >wall</text>
<line x1="-218.50" y1="5.00" x2="-209.90" y2="-17.20" stroke="#000" stroke-width="1.6"/>
<text x="-207.64" y="0.00" font-size="25.7" font-style="italic" stroke="#000" stroke-width="0.25">P</text>
<text x="-193.25" y="6.60" font-size="23.7" >&#8734;</text>
</g>
<g transform="translate(337.50,0) rotate(-90)">
<text x="-845.28" y="0.00" font-size="29.5" >d</text>
<text x="-827.21" y="0.00" font-size="29.5" font-style="italic" stroke="#000" stroke-width="0.3">P</text>
<line x1="-810.40" y1="5.50" x2="-799.30" y2="-20.50" stroke="#000" stroke-width="1.6"/>
<text x="-797.88" y="0.00" font-size="29.5" >d</text>
<text x="-783.61" y="0.00" font-size="29.5" font-style="italic" >x</text>
<text x="-767.95" y="-4.50" font-size="21" >*</text>
<text x="-760.15" y="0.00" font-size="28.5" font-style="italic" >&#948;</text>
<text x="-745.84" y="4.10" font-size="21" >0</text>
<line x1="-735.50" y1="5.50" x2="-724.60" y2="-20.50" stroke="#000" stroke-width="1.6"/>
<text x="-722.41" y="0.00" font-size="29.5" font-style="italic" stroke="#000" stroke-width="0.3">P</text>
<text x="-704.74" y="6.70" font-size="26" >&#8734;</text>
</g>
</svg></body></html>
